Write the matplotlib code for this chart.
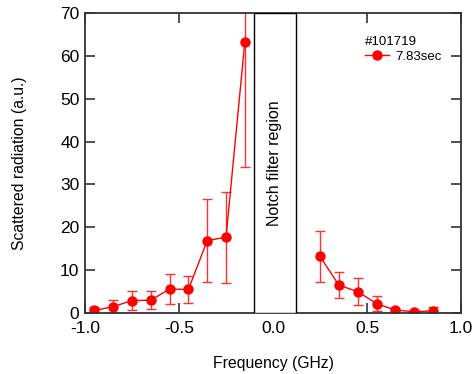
import matplotlib
matplotlib.use("Agg")
import matplotlib.pyplot as plt
from matplotlib.patches import Rectangle

plt.rcParams["font.family"] = ["Liberation Sans", "DejaVu Sans"]

# dati
freq_neg = [-0.95, -0.85, -0.75, -0.65, -0.55, -0.45, -0.35, -0.25, -0.15]
sig_neg = [0.6, 1.5, 2.9, 3.0, 5.6, 5.5, 16.9, 17.7, 63.3]
err_neg = [0.8, 1.5, 2.3, 2.1, 3.5, 3.2, 9.7, 10.6, 29.2]

freq_pos = [0.25, 0.35, 0.45, 0.55, 0.65, 0.75, 0.85]
sig_pos = [13.2, 6.5, 5.0, 2.2, 0.7, 0.3, 0.5]
err_pos = [6.0, 3.0, 3.1, 1.8, 0.5, 0.4, 0.8]

notch = (-0.10, 0.12)
shot = "#101719"
time_label = "7.83sec"

fig = plt.figure(figsize=(4.72, 3.74), dpi=100)
ax = fig.add_axes([0.180, 0.163, 0.797, 0.802])

red = "#ff0000"
kw = dict(color=red, marker="o", markersize=6.5, lw=1.0, capsize=3.5,
          elinewidth=1.0, ecolor="#ff3030", capthick=1.0)
line, _, _ = ax.errorbar(freq_neg, sig_neg, yerr=err_neg, **kw)
ax.errorbar(freq_pos, sig_pos, yerr=err_pos, **kw)

ax.add_patch(Rectangle((notch[0], 0), notch[1] - notch[0], 70, facecolor="white",
                       edgecolor="black", lw=1.0, zorder=3))
ax.text(sum(notch) / 2, 35, "Notch filter region", rotation=90,
        ha="center", va="center", fontsize=11.5, zorder=4)

ax.set_xlim(-1.0, 1.0)
ax.set_ylim(0, 70)
ax.set_xticks([-1.0, -0.5, 0.0, 0.5, 1.0])
ax.set_xticklabels(["-1.0", "-0.5", "0.0", "0.5", "1.0"])
ax.set_yticks(range(0, 71, 10))
ax.tick_params(direction="in", length=7.5, width=1.2, labelsize=12.5,
               top=True, right=True, color="#333333")
ax.tick_params(axis="x", pad=6)
ax.tick_params(axis="y", pad=4)
for s in ax.spines.values():
    s.set_linewidth(1.3)
    s.set_color("#333333")

ax.set_xlabel("Frequency (GHz)", fontsize=11.3, labelpad=14)
ax.set_ylabel("Scattered radiation (a.u.)", fontsize=11.3, labelpad=24)

ax.text(0.745, 0.905, shot, fontsize=9.5, ha="left", va="center",
        transform=ax.transAxes)
ax.legend([line], [time_label], loc="center left", bbox_to_anchor=(0.745, 0.855),
          frameon=False, fontsize=9.5, handlelength=1.8, handletextpad=0.45,
          borderaxespad=0, borderpad=0)

fig.savefig("out.png", dpi=100)
